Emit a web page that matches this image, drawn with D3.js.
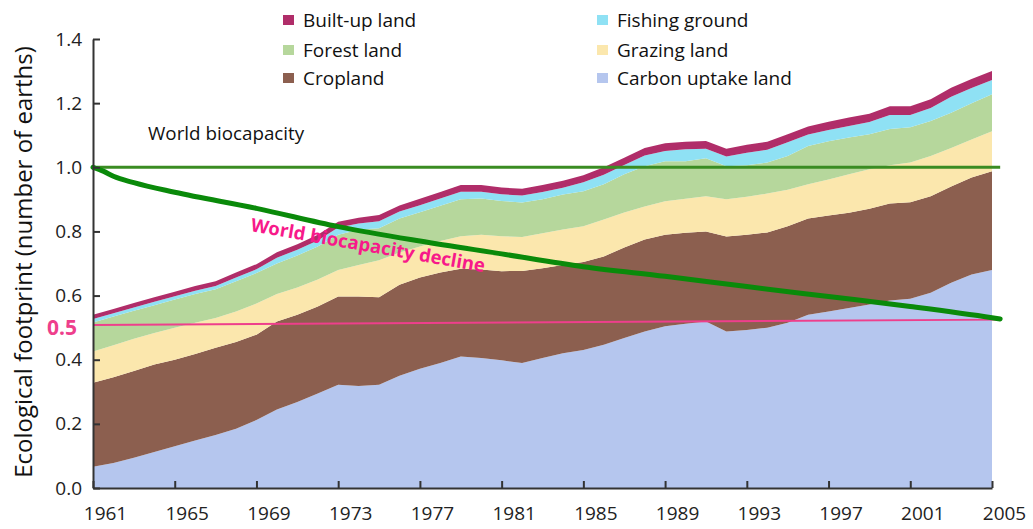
<!DOCTYPE html>
<html>
<head>
<meta charset="utf-8">
<script src="https://cdn.jsdelivr.net/npm/d3@7"></script>
<style>
  body { margin: 0; background: #fff; }
  svg { display: block; font-family: "Open Sans", sans-serif; }
</style>
</head>
<body>
<div id="chart"></div>
<script>
// ---- data ----
const years = d3.range(1961, 2006)

const carbon = [0.066,0.078,0.094,0.112,0.130,0.148,0.165,0.185,0.212,0.245,0.268,0.295,0.322,0.318,0.322,0.350,0.372,0.390,0.410,0.405,
  0.398,0.390,0.405,0.420,0.430,0.447,0.468,0.488,0.504,0.512,0.519,0.488,0.493,0.500,0.515,0.540,0.550,0.561,0.572,0.585,
  0.590,0.609,0.640,0.666,0.680]
const cropland = [0.262,0.267,0.271,0.273,0.270,0.270,0.272,0.270,0.266,0.274,0.272,0.271,0.275,0.279,0.273,0.284,0.284,0.282,0.274,0.276,
  0.278,0.287,0.280,0.275,0.275,0.275,0.282,0.287,0.286,0.284,0.281,0.296,0.297,0.297,0.301,0.300,0.300,0.297,0.299,0.302,
  0.301,0.301,0.300,0.302,0.308]
const grazing = [0.098,0.100,0.100,0.098,0.100,0.097,0.093,0.095,0.097,0.086,0.085,0.084,0.083,0.098,0.115,0.100,0.097,0.098,0.101,0.109,
  0.109,0.106,0.109,0.111,0.111,0.115,0.109,0.103,0.104,0.106,0.110,0.116,0.118,0.121,0.114,0.107,0.112,0.120,0.123,0.119,
  0.124,0.125,0.120,0.119,0.124]
const forest = [0.090,0.090,0.088,0.087,0.088,0.090,0.090,0.095,0.095,0.095,0.100,0.103,0.110,0.110,0.100,0.106,0.107,0.110,0.115,0.113,
  0.110,0.107,0.106,0.109,0.109,0.110,0.119,0.125,0.125,0.117,0.118,0.103,0.098,0.097,0.105,0.119,0.119,0.115,0.109,0.113,
  0.110,0.109,0.110,0.113,0.116]
const fishing = [0.011,0.010,0.010,0.011,0.010,0.010,0.010,0.011,0.012,0.018,0.018,0.019,0.022,0.020,0.022,0.022,0.022,0.023,0.024,0.021,
  0.021,0.022,0.023,0.021,0.028,0.030,0.029,0.034,0.032,0.037,0.030,0.031,0.039,0.040,0.043,0.036,0.035,0.036,0.038,0.044,
  0.038,0.041,0.050,0.047,0.044]
const builtup = [0.013,0.013,0.014,0.014,0.014,0.015,0.015,0.016,0.016,0.017,0.017,0.018,0.018,0.018,0.019,0.019,0.020,0.020,0.021,0.021,
  0.021,0.021,0.022,0.022,0.022,0.023,0.023,0.023,0.024,0.024,0.024,0.024,0.025,0.025,0.025,0.025,0.026,0.026,0.026,0.027,
  0.027,0.027,0.028,0.028,0.028]

// biocapacity decline curve
const declineYears  = [1961, 1961.5, 1962, 1963, 1965, 1969, 1973, 1977, 1981, 1985, 1989, 1993, 1997, 2001, 2005, 2005.4]
const declineValues = [1.0, 0.988, 0.972, 0.952, 0.922, 0.872, 0.815, 0.770, 0.730, 0.690, 0.660, 0.628, 0.597, 0.566, 0.531, 0.527]

const biocapYears = [1961, 2005.4]
const biocapValues = [1.0, 1.0]
const halfYears = [1961, 2005.4]
const halfValues = [0.508, 0.525]

const yTicks = [0, 0.2, 0.4, 0.6, 0.8, 1.0, 1.2, 1.4]
const xTicks = [1961, 1965, 1969, 1973, 1977, 1981, 1985, 1989, 1993, 1997, 2001, 2005]

const keys = ["carbon", "cropland", "grazing", "forest", "fishing", "builtup"]
const colors = {carbon: "#b5c6ee", cropland: "#8c5f4f", grazing: "#fbe7ad", forest: "#b6d79c", fishing: "#8fe1f4", builtup: "#b02d69"}
const legendKeys = [["builtup", "Built-up land"], ["forest", "Forest land"], ["cropland", "Cropland"],
                    ["fishing", "Fishing ground"], ["grazing", "Grazing land"], ["carbon", "Carbon uptake land"]]

// ---- layout ----
const WIDTH = 1033, HEIGHT = 529
const PLOT = {LEFT: 93, RIGHT: 992, TOP: 39, BOTTOM: 488}

const svg = d3.select("#chart").append("svg")
  .attr("width", WIDTH).attr("height", HEIGHT)

const x = d3.scaleLinear().domain([1961, 2005]).range([PLOT.LEFT, PLOT.RIGHT])
const y = d3.scaleLinear().domain([0, 1.4]).range([PLOT.BOTTOM, PLOT.TOP])

const table = years.map((yr, i) => ({
  year: yr, carbon: carbon[i], cropland: cropland[i], grazing: grazing[i],
  forest: forest[i], fishing: fishing[i], builtup: builtup[i]
}))
const series = d3.stack().keys(keys)(table)

const area = d3.area()
  .x(d => x(d.data.year))
  .y0(d => y(d[0]))
  .y1(d => y(d[1]))

svg.append("g").selectAll("path")
  .data(series)
  .enter().append("path")
    .attr("d", area)
    .attr("fill", d => colors[d.key])

// lines
const line = d3.line().x(d => x(d[0])).y(d => y(d[1]))

svg.append("path")
  .attr("d", line(d3.zip(halfYears, halfValues)))
  .attr("fill", "none").attr("stroke", "#ee3f8c").attr("stroke-width", 2)

svg.append("path")
  .attr("d", line(d3.zip(biocapYears, biocapValues)))
  .attr("fill", "none").attr("stroke", "#3a8c22").attr("stroke-width", 3)

svg.append("path")
  .attr("d", line.curve(d3.curveMonotoneX)(d3.zip(declineYears, declineValues)))
  .attr("fill", "none").attr("stroke", "#0a8a0a").attr("stroke-width", 5)
  .attr("stroke-linecap", "round")

// axes
const yAxis = svg.append("g")
  .attr("transform", `translate(${PLOT.LEFT},0)`)
  .call(d3.axisLeft(y).tickValues(yTicks).tickFormat(d3.format(".1f"))
    .tickSizeInner(-7).tickSizeOuter(0).tickPadding(11))
const xAxis = svg.append("g")
  .attr("transform", `translate(0,${PLOT.BOTTOM})`)
  .call(d3.axisBottom(x).tickValues(xTicks).tickFormat(d3.format("d"))
    .tickSizeInner(-7).tickSizeOuter(0).tickPadding(19))

;[yAxis, xAxis].forEach(g => {
  g.select(".domain").attr("stroke", "#333").attr("stroke-width", 2)
  g.selectAll(".tick line").attr("stroke", "#333").attr("stroke-width", 2)
  g.selectAll(".tick text").attr("fill", "#222").style("font-size", "19px")
    .style("font-family", '"Open Sans", sans-serif')
})
xAxis.selectAll(".tick text").attr("dx", 12)

// y label
svg.append("text")
  .attr("transform", `translate(32,262) rotate(-90)`)
  .attr("text-anchor", "middle")
  .style("font-size", "24px")
  .attr("fill", "#111")
  .text("Ecological footprint (number of earths)")

// 0.5 marker label
svg.append("text")
  .attr("x", 77).attr("y", y(0.5) + 7)
  .attr("text-anchor", "end")
  .style("font-size", "21px").style("font-weight", "bold")
  .attr("fill", "#ee3f8c")
  .text("0.5")

// annotations
svg.append("text")
  .attr("x", 148).attr("y", 140)
  .style("font-size", "18.8px").attr("fill", "#111")
  .text("World biocapacity")

svg.append("text")
  .attr("transform", "translate(250,231) rotate(10)")
  .style("font-size", "18.5px").style("font-weight", "bold")
  .attr("fill", "#f7198a")
  .text("World biocapacity decline")

// legend
const legendCol = [283, 597]
const legendRow = [20, 50, 78]
const legend = svg.append("g").selectAll("g")
  .data(legendKeys)
  .enter().append("g")
    .attr("transform", (d, i) => `translate(${legendCol[Math.floor(i / 3)]},${legendRow[i % 3]})`)
legend.append("rect")
  .attr("x", 0).attr("y", -5).attr("width", 11).attr("height", 10)
  .attr("fill", d => colors[d[0]])
legend.append("text")
  .attr("x", 20).attr("y", 7)
  .style("font-size", "19px").attr("fill", "#111")
  .text(d => d[1])
</script>
</body>
</html>
